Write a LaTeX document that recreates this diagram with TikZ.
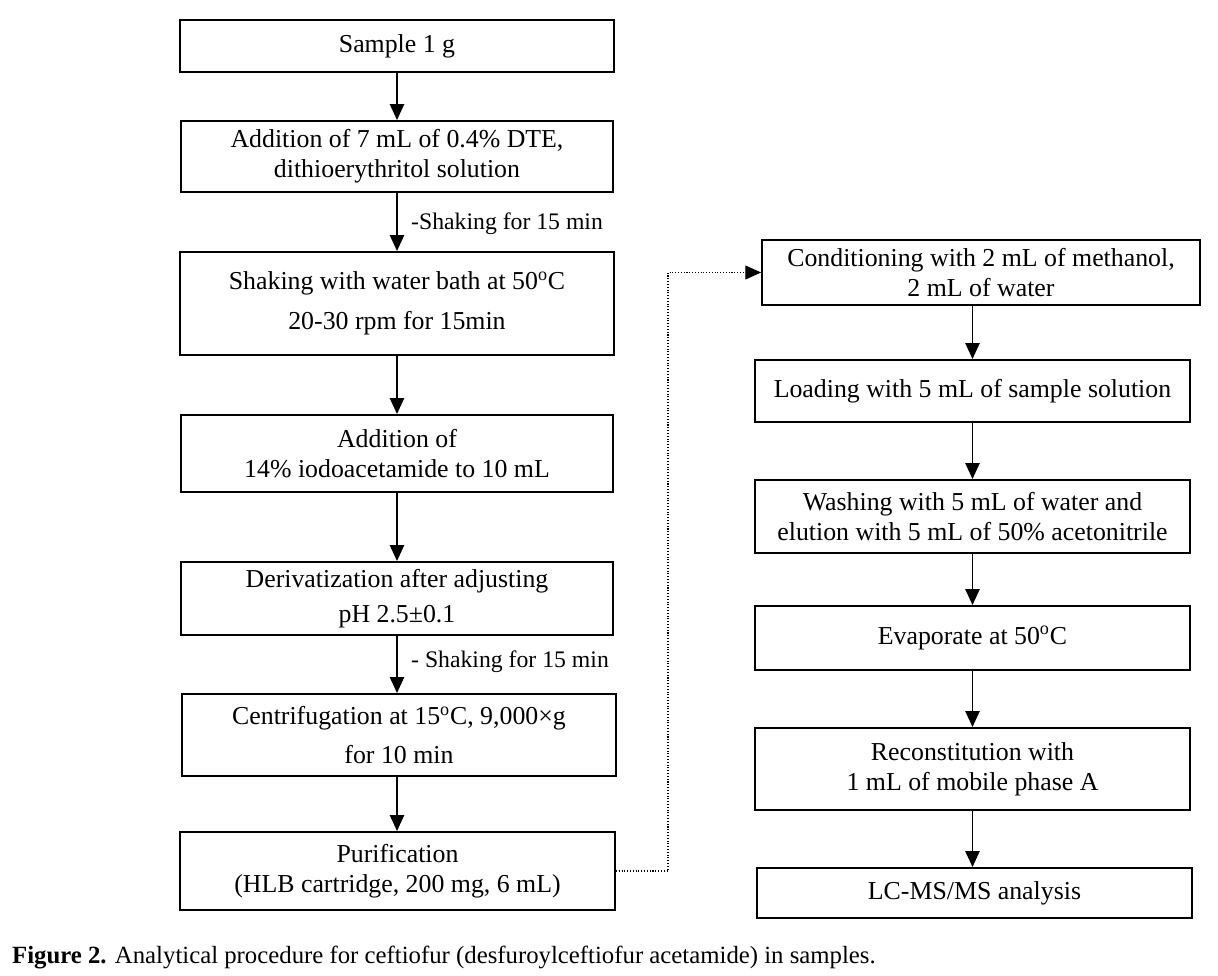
\documentclass[tikz,border=0pt]{standalone}
\usepackage{fontspec}
\setmainfont{Liberation Serif}
\usetikzlibrary{arrows.meta}

\tikzset{
  stepbox/.style = {draw, black, line width=1.1pt, align=center, inner sep=2pt,
                    font=\fontsize{14.7}{17}\selectfont},
  flow/.style    = {-{Triangle[length=9pt, width=8pt]}, black, line width=1.1pt},
  jump/.style    = {-{Triangle[length=9pt, width=8pt]}, black, densely dotted, line width=0.6pt}
}

\begin{document}
\begin{tikzpicture}[x=0.02cm, y=-0.02cm]
\useasboundingbox (0,0) rectangle (1218,976);
% left column
\node[stepbox, minimum width=8.7cm, minimum height=1.04cm] (sample) at (397, 46) {Sample 1 g};
\node[stepbox, minimum width=8.64cm, minimum height=1.42cm] (add7) at (397, 156.5) {Addition of 7 mL of 0.4\% DTE,\\dithioerythritol solution};
\node[stepbox, minimum width=8.68cm, minimum height=2.06cm] (bath) at (397, 303.5) {Shaking with water bath at 50\textsuperscript{o}C\\[5.5pt]20-30 rpm for 15min};
\node[stepbox, minimum width=8.64cm, minimum height=1.54cm] (iodo) at (397, 453.5) {Addition of\\14\% iodoacetamide to 10 mL};
\node[stepbox, minimum width=8.64cm, minimum height=1.46cm] (deriv) at (397, 598.5) {Derivatization after adjusting\\[3pt]pH 2.5±0.1};
\node[stepbox, minimum width=8.68cm, minimum height=1.64cm] (centri) at (399, 735) {Centrifugation at 15\textsuperscript{o}C, 9,000×g\\[5.5pt]for 10 min};
\node[stepbox, minimum width=8.7cm, minimum height=1.56cm] (purif) at (397.5, 871) {Purification\\(HLB cartridge, 200 mg, 6 mL)};
% right column
\node[stepbox, minimum width=8.76cm, minimum height=1.3cm] (cond) at (981, 272.5) {Conditioning with 2 mL of methanol,\\2 mL of water};
\node[stepbox, minimum width=8.7cm, minimum height=1.24cm] (load) at (972.5, 391) {Loading with 5 mL of sample solution};
\node[stepbox, minimum width=8.7cm, minimum height=1.46cm] (wash) at (972.5, 516.5) {Washing with 5 mL of water and\\elution with 5 mL of 50\% acetonitrile};
\node[stepbox, minimum width=8.7cm, minimum height=1.28cm] (evap) at (972.5, 638) {Evaporate at 50\textsuperscript{o}C};
\node[stepbox, minimum width=8.7cm, minimum height=1.64cm] (recon) at (972.5, 769) {Reconstitution with\\1 mL of mobile phase A};
\node[stepbox, minimum width=8.7cm, minimum height=1.0cm] (lcms) at (974.5, 893) {LC-MS/MS analysis};
% side notes
\node[right, font=\fontsize{13.5}{16}\selectfont] (shake1) at (405, 224) {-Shaking for 15 min};
\node[right, font=\fontsize{13.5}{16}\selectfont] (shake2) at (405, 662) {- Shaking for 15 min};
% arrows
\draw[flow] (sample) -- (sample |- add7.north);
\draw[flow] (add7) -- (add7 |- bath.north);
\draw[flow] (bath) -- (bath |- iodo.north);
\draw[flow] (iodo) -- (iodo |- deriv.north);
\draw[flow] (deriv) -- (deriv |- centri.north);
\draw[flow] (deriv |- centri.south) -- (deriv |- purif.north);
\draw[flow] (load |- cond.south) -- (load);
\draw[flow] (load) -- (wash);
\draw[flow] (wash) -- (evap);
\draw[flow] (evap) -- (recon);
\draw[flow] (recon) -- (lcms.north -| recon);
\coordinate (turn) at (668, 0);
\draw[jump] (purif.east) -| (turn |- cond.west) -- (cond.west);
% caption
\node[right, font=\fontsize{14.1}{16}\selectfont] (caption) at (6, 958) {\textbf{Figure 2.} Analytical procedure for ceftiofur (desfuroylceftiofur acetamide) in samples.};
\end{tikzpicture}
\end{document}
